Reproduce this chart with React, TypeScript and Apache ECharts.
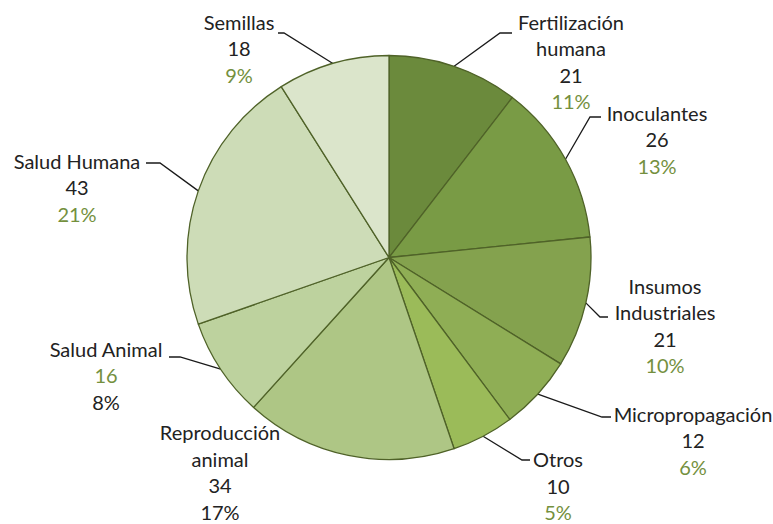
import React, { useEffect, useRef } from "react";
import * as echarts from "echarts";

const categories = [
  "Fertilización\nhumana",
  "Inoculantes",
  "Insumos\nIndustriales",
  "Micropropagación",
  "Otros",
  "Reproducción\nanimal",
  "Salud Animal",
  "Salud Humana",
  "Semillas",
];
const values = [21, 26, 21, 12, 10, 34, 16, 43, 18];
const pctLabels = ["11%", "13%", "10%", "6%", "5%", "17%", "8%", "21%", "9%"];
const colors = [
  "#6b8a3c",
  "#799b45",
  "#84a24e",
  "#8fae55",
  "#9bbb59",
  "#aec685",
  "#bdd29e",
  "#cddcb7",
  "#dbe5cb",
];
// text style of the value line and of the percentage line ("k" black, "g" green)
const valueStyle = ["k", "k", "k", "k", "k", "k", "g", "k", "k"];
const pctStyle = ["g", "g", "g", "g", "g", "k", "k", "g", "g"];
const noLeaderLine = ["Reproducción\nanimal"];

// label layout (center x, top y, leader line bend points)
const labelPos: { x: number; y: number; line: number[][] | null }[] = [
  { x: 571, y: 8.5, line: [[500, 33], [512, 33]] },
  { x: 657, y: 99.5, line: [[590, 117], [601, 117]] },
  { x: 665, y: 272.5, line: [[600, 317], [608, 317]] },
  { x: 693, y: 400.5, line: [[602, 417], [611, 417]] },
  { x: 558, y: 446, line: [[522, 460], [530, 460]] },
  { x: 220, y: 419, line: null },
  { x: 106, y: 335.5, line: [[180, 357], [169, 357]] },
  { x: 77, y: 147.5, line: [[160, 163], [146, 163]] },
  { x: 239, y: 8.5, line: [[284, 33], [278, 33]] },
];

export default function App() {
  const ref = useRef<HTMLDivElement>(null);
  useEffect(() => {
    if (!ref.current) return;
    const chart = echarts.init(ref.current, null, { renderer: "svg" });
    const font = "Lato, 'Noto Sans', sans-serif";
    const txt = { fontFamily: font, fontSize: 20, lineHeight: 26.5 };
    chart.setOption({
      animation: false,
      backgroundColor: "#ffffff",
      series: [
        {
          type: "pie",
          center: [389, 257.5],
          radius: 202,
          startAngle: 90,
          clockwise: true,
          avoidLabelOverlap: false,
          itemStyle: { borderColor: "#4f6228", borderWidth: 1.3 },
          label: {
            show: true,
            position: "outside",
            formatter: (p: any) => {
              const i = p.dataIndex;
              const nameLines = String(p.name)
                .split("\n")
                .map((s: string) => `{k|${s}}`)
                .join("\n");
              return `${nameLines}\n{${valueStyle[i]}|${p.value}}\n{${pctStyle[i]}|${pctLabels[i]}}`;
            },
            rich: {
              k: { ...txt, color: "#222222", align: "center" },
              g: { ...txt, color: "#74903e", align: "center" },
            },
            align: "center",
          },
          labelLine: {
            show: true,
            lineStyle: { color: "#1a1a1a", width: 1.3 },
          },
          labelLayout: (params: any) => {
            const lp = labelPos[params.dataIndex];
            const edge = params.labelLinePoints
              ? params.labelLinePoints[0]
              : [0, 0];
            const out: any = {
              x: lp.x,
              y: lp.y,
              align: "center",
              verticalAlign: "top",
            };
            if (lp.line) {
              out.labelLinePoints = [edge, lp.line[0], lp.line[1]];
            }
            return out;
          },
          data: categories.map((c, i) => ({
            name: c,
            value: values[i],
            itemStyle: { color: colors[i] },
            labelLine: { show: !noLeaderLine.includes(c) },
          })),
        },
      ],
    });
    return () => chart.dispose();
  }, []);
  return (
    <div
      ref={ref}
      style={{ position: "fixed", left: 0, top: 0, width: 773, height: 524 }}
    />
  );
}
